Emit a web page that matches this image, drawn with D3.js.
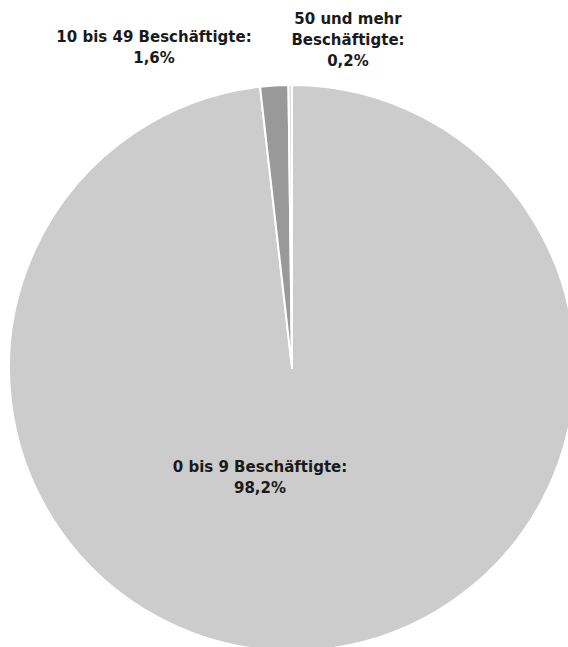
<!DOCTYPE html>
<html>
<head>
<meta charset="utf-8">
<script src="https://cdn.jsdelivr.net/npm/d3@7"></script>
<style>
  body { margin: 0; background: #fff; }
  .lbl { font-family: "DejaVu Sans", sans-serif; font-weight: bold; font-size: 15px; fill: #1a1a1a; }
</style>
</head>
<body>
<svg id="chart" width="568" height="647"></svg>
<script>
// categories and shares (percent)
var categories = ["0 bis 9 Beschäftigte", "10 bis 49 Beschäftigte", "50 und mehr Beschäftigte"];
var shares = [98.2, 1.6, 0.2];
var shareLabels = ["98,2%", "1,6%", "0,2%"];
// label text lines per slice
var labelLines = [
  ["0 bis 9 Beschäftigte:", "98,2%"],
  ["10 bis 49 Beschäftigte:", "1,6%"],
  ["50 und mehr", "Beschäftigte:", "0,2%"]
];

var colors = ["#cccccc", "#999999", "#dddddd"];

var cx = 292, cy = 368, radius = 283;

var svg = d3.select("#chart");
var g = svg.append("g").attr("transform", "translate(" + cx + "," + cy + ")");

var pie = d3.pie().sort(null).value(function(d){ return d; });
var arcs = pie(shares);

var arc = d3.arc().innerRadius(0).outerRadius(radius);

g.selectAll("path.slice")
  .data(arcs)
  .enter().append("path")
  .attr("class", "slice")
  .attr("d", arc)
  .attr("fill", function(d, i){ return colors[i]; })
  .attr("stroke", "#ffffff")
  .attr("stroke-width", 2)
  .attr("stroke-linejoin", "round");

// label anchors: offsets from the pie centre
var labelPos = [
  { x: -32, y: 104 },   // big slice, inside
  { x: -138, y: -326 }, // 10-49, above
  { x: 56, y: -344 }    // 50+, above
];
var lineGap = 21;

labelLines.forEach(function(lines, i){
  var t = g.append("text")
    .attr("class", "lbl")
    .attr("text-anchor", "middle")
    .attr("x", labelPos[i].x)
    .attr("y", labelPos[i].y);
  lines.forEach(function(s, j){
    t.append("tspan")
      .attr("x", labelPos[i].x)
      .attr("dy", j == 0 ? 0 : lineGap)
      .text(s);
  });
});
</script>
</body>
</html>
